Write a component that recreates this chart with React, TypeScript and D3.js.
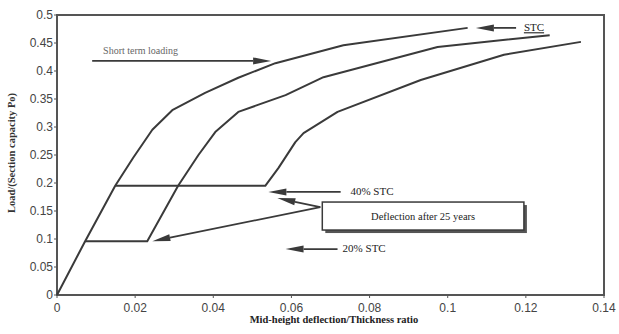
import * as d3 from "d3";

const W = 619;
const H = 334;

const xTicks = [0, 0.02, 0.04, 0.06, 0.08, 0.1, 0.12, 0.14];
const yTicks = [0, 0.05, 0.1, 0.15, 0.2, 0.25, 0.3, 0.35, 0.4, 0.45, 0.5];

// short term loading curve (deflection ratio, load ratio)
const shortTerm: [number, number][] = [
  [0, 0], [0.0072, 0.096], [0.0149, 0.195], [0.0195, 0.245], [0.0244, 0.295],
  [0.0295, 0.33], [0.0379, 0.361], [0.0464, 0.388], [0.0559, 0.414],
  [0.0733, 0.446], [0.1051, 0.477],
];

// sustained at 20% STC for 25 years, then reloaded
const stc20: [number, number][] = [
  [0.0072, 0.096], [0.0231, 0.096], [0.031, 0.195], [0.0362, 0.25],
  [0.0405, 0.291], [0.0464, 0.327], [0.0585, 0.357], [0.0682, 0.389],
  [0.0974, 0.443], [0.1261, 0.464],
];

// sustained at 40% STC for 25 years, then reloaded
const stc40: [number, number][] = [
  [0.0149, 0.195], [0.0533, 0.195], [0.0567, 0.227], [0.061, 0.273],
  [0.0631, 0.289], [0.0718, 0.327], [0.0931, 0.384], [0.1144, 0.429],
  [0.1341, 0.452],
];

// annotation arrows, in data units: [from, tip]
const arrows: [[number, number], [number, number]][] = [
  [[0.009, 0.418], [0.0548, 0.418]],
  [[0.1175, 0.477], [0.1072, 0.477]],
  [[0.0726, 0.184], [0.0541, 0.184]],
  [[0.0718, 0.082], [0.0585, 0.082]],
  [[0.0674, 0.157], [0.0564, 0.173]],
  [[0.0674, 0.157], [0.0244, 0.096]],
];

const labels = [
  { text: "Short term loading", x: 0.0118, y: 0.43, size: 10, fill: "#666" },
  { text: "STC", x: 0.1195, y: 0.471, size: 11, fill: "#222", underline: true },
  { text: "40% STC", x: 0.0751, y: 0.178, size: 11, fill: "#222" },
  { text: "20% STC", x: 0.0731, y: 0.076, size: 11, fill: "#222" },
];

const box = { text: "Deflection after 25 years", x0: 0.0679, x1: 0.1195, y0: 0.166, y1: 0.116 };

export default function App() {
  const x = d3.scaleLinear().domain([0, 0.14]).range([57, 604]);
  const y = d3.scaleLinear().domain([0, 0.5]).range([295, 15]);
  const line = d3.line<[number, number]>().x((d) => x(d[0])).y((d) => y(d[1]));
  const ink = "#3a3a3a";

  const arrowEls = arrows.map(([from, to], i) => {
    const x1 = x(from[0]), y1 = y(from[1]);
    const x2 = x(to[0]), y2 = y(to[1]);
    const a = Math.atan2(y2 - y1, x2 - x1);
    const len = 18, hw = 3.5;
    const bx = x2 - len * Math.cos(a), by = y2 - len * Math.sin(a);
    const px = -Math.sin(a) * hw, py = Math.cos(a) * hw;
    return (
      <g key={i}>
        <line x1={x1} y1={y1} x2={bx} y2={by} stroke={ink} strokeWidth={1.8} />
        <path d={`M${x2},${y2}L${bx + px},${by + py}L${bx - px},${by - py}Z`} fill={ink} />
      </g>
    );
  });

  return (
    <svg width={W} height={H} style={{ position: "absolute", left: 0, top: 0, background: "#fff" }}>
      {/* frame */}
      <rect x={x(0)} y={y(0.5)} width={x(0.14) - x(0)} height={y(0) - y(0.5)}
        fill="none" stroke="#555" strokeWidth={2} />

      {/* y axis */}
      {yTicks.map((t) => (
        <g key={t} transform={`translate(0,${y(t)})`}>
          <line x1={x(0) - 3} x2={x(0)} stroke="#555" strokeWidth={1} />
          <text x={x(0) - 4} dy="0.35em" textAnchor="end" fontFamily="Liberation Sans, Arial"
            fontSize={12} fill="#444">{t}</text>
        </g>
      ))}

      {/* x axis */}
      {xTicks.map((t) => (
        <g key={t} transform={`translate(${x(t)},0)`}>
          <line y1={y(0)} y2={y(0) + 3} stroke="#555" strokeWidth={1} />
          <text y={y(0) + 17} textAnchor="middle" fontFamily="Liberation Sans, Arial"
            fontSize={12} fill="#444">{t}</text>
        </g>
      ))}

      <text x={334} y={323} textAnchor="middle" fontFamily="Liberation Serif, serif"
        fontWeight="bold" fontSize={10.5} fill="#222">Mid-height deflection/Thickness ratio</text>
      <text transform="translate(15,153) rotate(-90)" textAnchor="middle"
        fontFamily="Liberation Serif, serif" fontWeight="bold" fontSize={10.5} fill="#333">
        Load/(Section capacity Po)
      </text>

      {/* curves */}
      {[shortTerm, stc20, stc40].map((s, i) => (
        <path key={i} d={line(s) ?? ""} fill="none" stroke={ink} strokeWidth={2} strokeLinejoin="round" />
      ))}

      {/* annotation box */}
      <rect x={x(box.x0) + 3} y={y(box.y0) + 3} width={x(box.x1) - x(box.x0)}
        height={y(box.y1) - y(box.y0)} fill="#555" />
      <rect x={x(box.x0)} y={y(box.y0)} width={x(box.x1) - x(box.x0)}
        height={y(box.y1) - y(box.y0)} fill="#fff" stroke={ink} strokeWidth={1.5} />
      <text x={(x(box.x0) + x(box.x1)) / 2} y={(y(box.y0) + y(box.y1)) / 2} dy="0.35em"
        textAnchor="middle" fontFamily="Liberation Serif, serif" fontSize={10.5} fill="#222">
        {box.text}
      </text>

      {arrowEls}

      {labels.map((l) => (
        <text key={l.text} x={x(l.x)} y={y(l.y)} fontFamily="Liberation Serif, serif"
          fontSize={l.size} fill={l.fill} textDecoration={l.underline ? "underline" : undefined}>
          {l.text}
        </text>
      ))}
    </svg>
  );
}
